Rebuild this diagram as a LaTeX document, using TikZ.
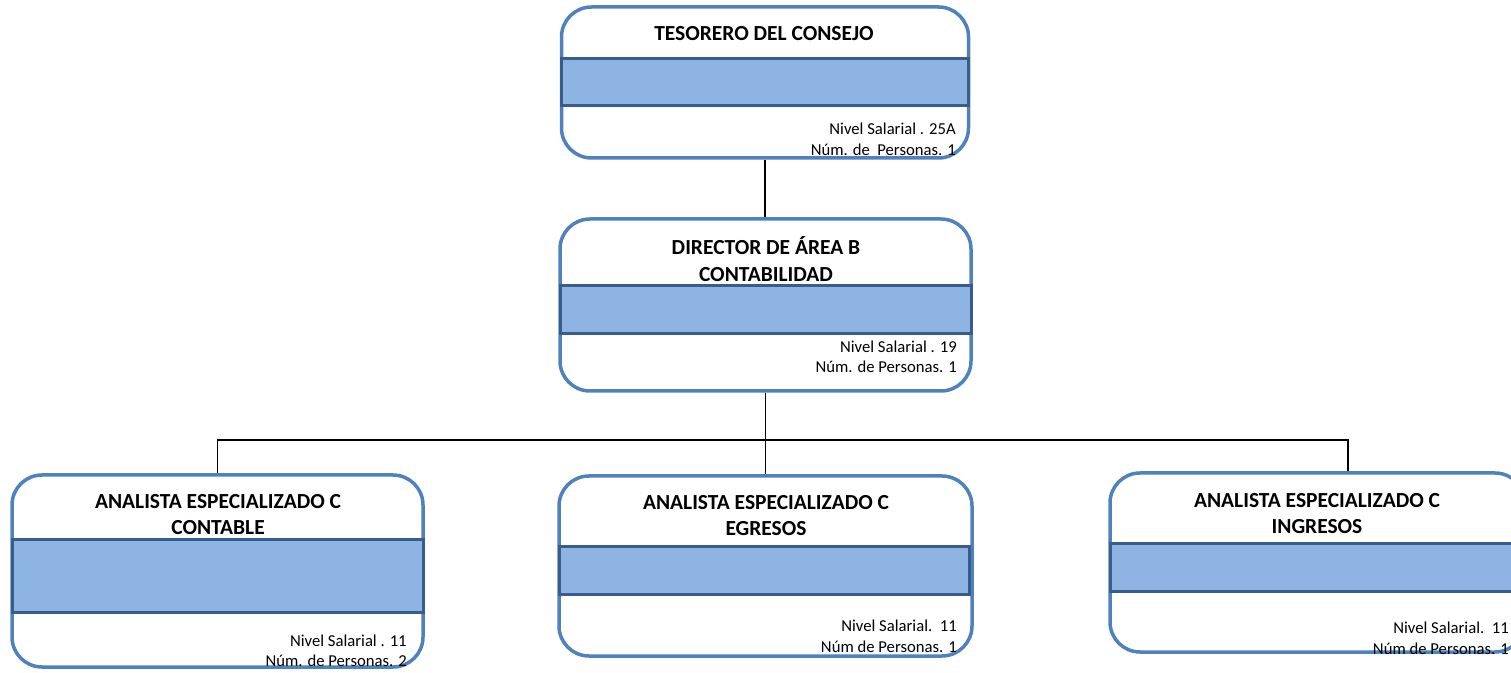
\documentclass[tikz,border=0pt]{standalone}
\usepackage{fontspec}
\setmainfont{Carlito}
\newlength{\du}
\setlength{\du}{0.75pt}
\definecolor{bordecolor}{rgb}{0.310000, 0.506000, 0.741000}
\definecolor{bandacolor}{rgb}{0.557000, 0.706000, 0.890000}
\definecolor{bandaborde}{rgb}{0.220000, 0.365000, 0.541000}
\tikzset{
  caja/.style={draw=bordecolor, line width=3.5\du, rounded corners=30\du, fill=white, inner sep=0pt},
  banda/.style={draw=bandaborde, fill=bandacolor, line width=3\du, inner sep=0pt},
  titulo/.style={font=\fontsize{16.1}{20}\selectfont\bfseries, anchor=base, inner sep=0pt},
  datos/.style={font=\fontsize{12.5}{15}\selectfont, anchor=base east, inner sep=0pt},
  linea/.style={draw=black, line width=1.5\du}
}
\begin{document}
\begin{tikzpicture}
\pgftransformxscale{1.000000}
\pgftransformyscale{-1.000000}
\useasboundingbox (0\du,0\du) rectangle (1511\du,673\du);
% cajas
\node[caja, minimum width=407\du, minimum height=151\du] (tesorero) at (765\du,82.5\du){};
\node[caja, minimum width=411\du, minimum height=172\du] (director) at (765.5\du,305\du){};
\node[caja, minimum width=411\du, minimum height=192\du] (contable) at (217.5\du,571\du){};
\node[caja, minimum width=413\du, minimum height=180\du] (egresos) at (765.5\du,566\du){};
\node[caja, minimum width=415\du, minimum height=179\du] (ingresos) at (1317.5\du,562.5\du){};
% bandas
\node[banda, minimum width=407\du, minimum height=47\du] (bandatesorero) at (765\du,82\du){};
\node[banda, minimum width=411\du, minimum height=48\du] (bandadirector) at (765.5\du,309.5\du){};
\node[banda, minimum width=411\du, minimum height=73\du] (bandacontable) at (217.5\du,576\du){};
\node[banda, minimum width=410\du, minimum height=48\du] (bandaegresos) at (764\du,570.5\du){};
\node[banda, minimum width=415\du, minimum height=48\du] (bandaingresos) at (1317.5\du,567.5\du){};
% titulos
\node[titulo] (tittesorero) at (764\du,41\du){TESORERO DEL CONSEJO};
\node[titulo] (titdirector) at (766\du,255\du){DIRECTOR DE ÁREA B};
\node[titulo] (titdirectorb) at (766\du,282\du){CONTABILIDAD};
\node[titulo] (titcontable) at (218\du,509\du){ANALISTA ESPECIALIZADO C};
\node[titulo] (titcontableb) at (218\du,535\du){CONTABLE};
\node[titulo] (titegresos) at (766\du,510\du){ANALISTA ESPECIALIZADO C};
\node[titulo] (titegresosb) at (766\du,536\du){EGRESOS};
\node[titulo] (titingresos) at (1317\du,508\du){ANALISTA ESPECIALIZADO C};
\node[titulo] (titingresosb) at (1317\du,533\du){INGRESOS};
% datos
\node[datos] (niveltesorero) at (956\du,135\du){Nivel Salarial . 25A};
\node[datos] (numtesorero) at (956\du,156\du){Núm. de\ \ Personas. 1};
\node[datos] (niveldirector) at (957\du,353\du){Nivel Salarial . 19};
\node[datos] (numdirector) at (957\du,373\du){Núm. de Personas. 1};
\node[datos] (nivelcontable) at (407\du,646\du){Nivel Salarial . 11};
\node[datos] (numcontable) at (407\du,666\du){Núm. de Personas. 2};
\node[datos] (nivelegresos) at (957\du,631\du){Nivel Salarial.\ \ 11};
\node[datos] (numegresos) at (957\du,652\du){Núm de Personas. 1};
\node[datos] (nivelingresos) at (1509\du,633\du){Nivel Salarial.\ \ 11};
\node[datos] (numingresos) at (1509\du,654\du){Núm de Personas. 1};
% conectores
\coordinate (barraizq) at (217.5\du,440\du);
\coordinate (barrader) at (1348\du,440\du);
\draw[linea] (tesorero.south) -- (tesorero.south |- director.north);
\draw[linea] (director.south) -- (director.south |- egresos.north);
\draw[linea] (contable.north) -- (barraizq) -- (barrader) -- (barrader |- ingresos.north);
\end{tikzpicture}
\end{document}
